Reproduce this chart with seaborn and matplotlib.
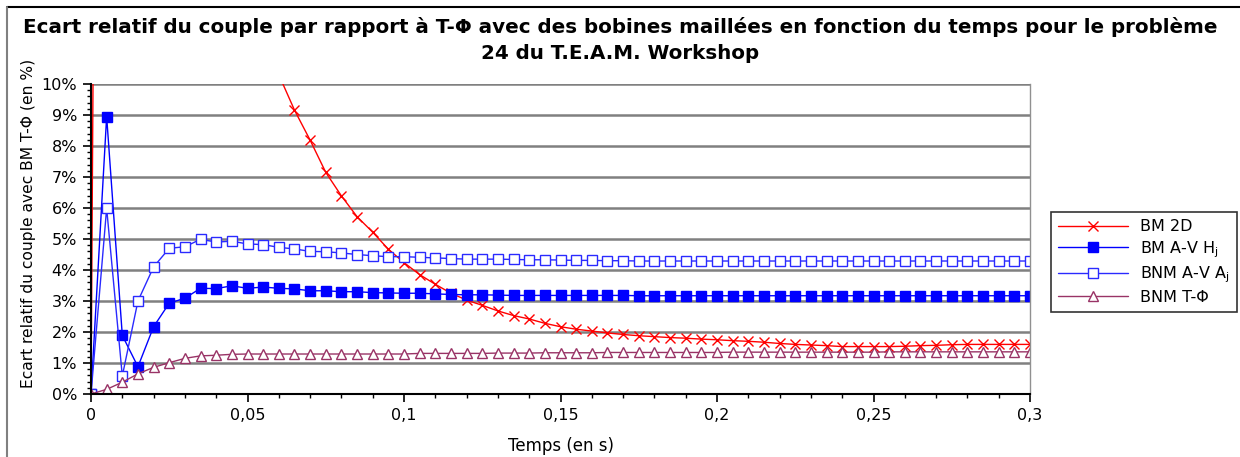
"""
Ecart relatif du couple (TEAM Workshop problème 24) - courbes temporelles
"""
import numpy as np
import pandas as pd
import matplotlib
matplotlib.use("Agg")
import matplotlib.pyplot as plt
import seaborn as sns
from matplotlib.ticker import MultipleLocator, FuncFormatter
from matplotlib.lines import Line2D

# ── Données ────────────────────────────────────────────────────────────────────
temps = [
    0.000, 0.005, 0.010, 0.015, 0.020, 0.025, 0.030, 0.035, 0.040, 0.045,
    0.050, 0.055, 0.060, 0.065, 0.070, 0.075, 0.080, 0.085, 0.090, 0.095,
    0.100, 0.105, 0.110, 0.115, 0.120, 0.125, 0.130, 0.135, 0.140, 0.145,
    0.150, 0.155, 0.160, 0.165, 0.170, 0.175, 0.180, 0.185, 0.190, 0.195,
    0.200, 0.205, 0.210, 0.215, 0.220, 0.225, 0.230, 0.235, 0.240, 0.245,
    0.250, 0.255, 0.260, 0.265, 0.270, 0.275, 0.280, 0.285, 0.290, 0.295,
    0.300,
]

bm_2d = [
    0.00, 78.0, 60.0, 45.0, 35.0, 28.0, 23.0, 19.0, 16.0, 14.0,
    12.5, 11.3, 10.3, 9.16, 8.19, 7.15, 6.39, 5.72, 5.22, 4.67,
    4.24, 3.85, 3.54, 3.25, 3.03, 2.86, 2.68, 2.53, 2.42, 2.28,
    2.17, 2.09, 2.03, 1.97, 1.92, 1.88, 1.85, 1.82, 1.80, 1.77,
    1.75, 1.72, 1.70, 1.67, 1.63, 1.60, 1.58, 1.56, 1.53, 1.53,
    1.53, 1.53, 1.54, 1.56, 1.57, 1.59, 1.60, 1.60, 1.60, 1.60,
    1.60,
]

bm_av_hj = [
    0.00, 8.95, 1.89, 0.88, 2.17, 2.93, 3.09, 3.41, 3.40, 3.49,
    3.41, 3.45, 3.41, 3.39, 3.33, 3.33, 3.30, 3.30, 3.27, 3.26,
    3.25, 3.25, 3.23, 3.21, 3.20, 3.20, 3.19, 3.18, 3.18, 3.18,
    3.18, 3.18, 3.18, 3.18, 3.18, 3.17, 3.17, 3.17, 3.17, 3.17,
    3.17, 3.17, 3.17, 3.17, 3.17, 3.17, 3.17, 3.17, 3.17, 3.17,
    3.17, 3.17, 3.17, 3.17, 3.17, 3.17, 3.17, 3.17, 3.17, 3.17,
    3.17,
]

bnm_av_aj = [
    0.00, 5.99, 0.58, 3.00, 4.10, 4.70, 4.75, 4.99, 4.90, 4.93,
    4.84, 4.82, 4.73, 4.68, 4.60, 4.59, 4.55, 4.50, 4.46, 4.43,
    4.43, 4.41, 4.39, 4.37, 4.35, 4.35, 4.35, 4.34, 4.33, 4.33,
    4.32, 4.31, 4.31, 4.30, 4.30, 4.29, 4.29, 4.29, 4.29, 4.29,
    4.29, 4.29, 4.29, 4.29, 4.29, 4.29, 4.29, 4.29, 4.29, 4.29,
    4.29, 4.29, 4.29, 4.29, 4.29, 4.29, 4.29, 4.29, 4.29, 4.29,
    4.29,
]

bnm_t_phi = [
    0.00, 0.15, 0.38, 0.65, 0.86, 1.01, 1.15, 1.23, 1.25, 1.28,
    1.29, 1.29, 1.29, 1.29, 1.29, 1.29, 1.29, 1.29, 1.29, 1.29,
    1.29, 1.31, 1.31, 1.31, 1.31, 1.31, 1.32, 1.32, 1.32, 1.33,
    1.33, 1.33, 1.33, 1.34, 1.34, 1.34, 1.34, 1.34, 1.34, 1.34,
    1.34, 1.35, 1.35, 1.35, 1.35, 1.35, 1.35, 1.35, 1.35, 1.35,
    1.35, 1.36, 1.36, 1.36, 1.36, 1.36, 1.36, 1.36, 1.36, 1.36,
    1.36,
]

df = pd.DataFrame({
    "t": temps,
    "BM 2D": bm_2d,
    "BM A-V Hj": bm_av_hj,
    "BNM A-V Aj": bnm_av_aj,
    "BNM T-Φ": bnm_t_phi,
})

# ── Style ──────────────────────────────────────────────────────────────────────
sns.set_theme(style="white")
plt.rcParams["font.family"] = ["DejaVu Sans"]
plt.rcParams["mathtext.default"] = "regular"
for key in ["text.color", "axes.labelcolor", "xtick.color", "ytick.color"]:
    plt.rcParams[key] = "black"

fig = plt.figure(figsize=(12.4, 4.57), dpi=100)
ax = fig.add_axes([91 / 1240, 1 - 394 / 457, (1030 - 91) / 1240, (394 - 84) / 457])

series = [
    # colonne, label, couleur, marqueur, face
    ("BM 2D",      "BM 2D",           "#FF0000", "x", "#FF0000"),
    ("BM A-V Hj",  "BM A-V H$_{j}$",  "#0000FF", "s", "#0000FF"),
    ("BNM A-V Aj", "BNM A-V A$_{j}$", "#2A2AFF", "s", "white"),
    ("BNM T-Φ",    "BNM T-Φ",         "#993366", "^", "white"),
]

for col, label, color, mk, face in series:
    sns.lineplot(
        data=df, x="t", y=col, ax=ax, label=label,
        color=color, linewidth=1.0, marker=mk,
        markersize=6.5 if mk != "x" else 7,
        markerfacecolor=face, markeredgecolor=color,
        markeredgewidth=1.0, sort=False, estimator=None,
    )

# ── Axes ───────────────────────────────────────────────────────────────────────
ax.set_xlim(0, 0.3)
ax.set_ylim(0, 10)
ax.xaxis.set_major_locator(MultipleLocator(0.05))
ax.xaxis.set_minor_locator(MultipleLocator(0.01))
ax.yaxis.set_major_locator(MultipleLocator(1))
ax.yaxis.set_minor_locator(MultipleLocator(0.2))
ax.xaxis.set_major_formatter(FuncFormatter(lambda v, p: f"{v:.2f}".rstrip("0").rstrip(".").replace(".", ",")))
ax.yaxis.set_major_formatter(FuncFormatter(lambda v, p: f"{v:.0f}%"))

ax.tick_params(axis="both", which="major", direction="out", length=6, width=1.2,
               color="black", labelsize=11.5, pad=4, bottom=True, left=True)
ax.tick_params(axis="both", which="minor", direction="out", length=3, width=1.0,
               color="black", bottom=True, left=True)

ax.yaxis.grid(True, which="major", color="#808080", linewidth=1.8)
ax.xaxis.grid(False)
ax.set_axisbelow(True)

ax.spines["left"].set_color("black")
ax.spines["left"].set_linewidth(1.5)
ax.spines["bottom"].set_color("black")
ax.spines["bottom"].set_linewidth(1.5)
ax.spines["top"].set_visible(False)
ax.spines["right"].set_color("#909090")
ax.spines["right"].set_linewidth(1.0)

ax.set_xlabel("Temps (en s)", fontsize=12)
ax.set_ylabel("Ecart relatif du couple avec BM T-Φ (en %)", fontsize=11.2)
ax.xaxis.set_label_coords(0.5, (394 - 437) / 310)
ax.yaxis.set_label_coords((36 - 91) / 939, (394 - 223) / 310)

fig.suptitle(
    "Ecart relatif du couple par rapport à T-Φ avec des bobines maillées en fonction du temps pour le problème\n"
    "24 du T.E.A.M. Workshop",
    fontsize=14.3, fontweight="bold", y=1 - 17 / 457, linespacing=1.45,
)

# ── Légende ────────────────────────────────────────────────────────────────────
leg = ax.legend(
    loc="upper left", bbox_to_anchor=(1051 / 1240, 1 - 212 / 457),
    bbox_transform=fig.transFigure, frameon=True, fancybox=False,
    edgecolor="black", fontsize=11.5, handlelength=4.4, labelspacing=0.3,
    borderpad=0.45, handletextpad=0.7, borderaxespad=0,
)
leg.get_frame().set_linewidth(1.2)

# ── Cadre du graphique ─────────────────────────────────────────────────────────
fig.add_artist(Line2D([7 / 1240, 1], [1 - 7 / 457, 1 - 7 / 457],
                      transform=fig.transFigure, color="black", linewidth=1.5))
fig.add_artist(Line2D([7 / 1240, 7 / 1240], [0, 1 - 7 / 457],
                      transform=fig.transFigure, color="#808080", linewidth=1.5))

fig.savefig("out.png", dpi=100)
plt.close(fig)
